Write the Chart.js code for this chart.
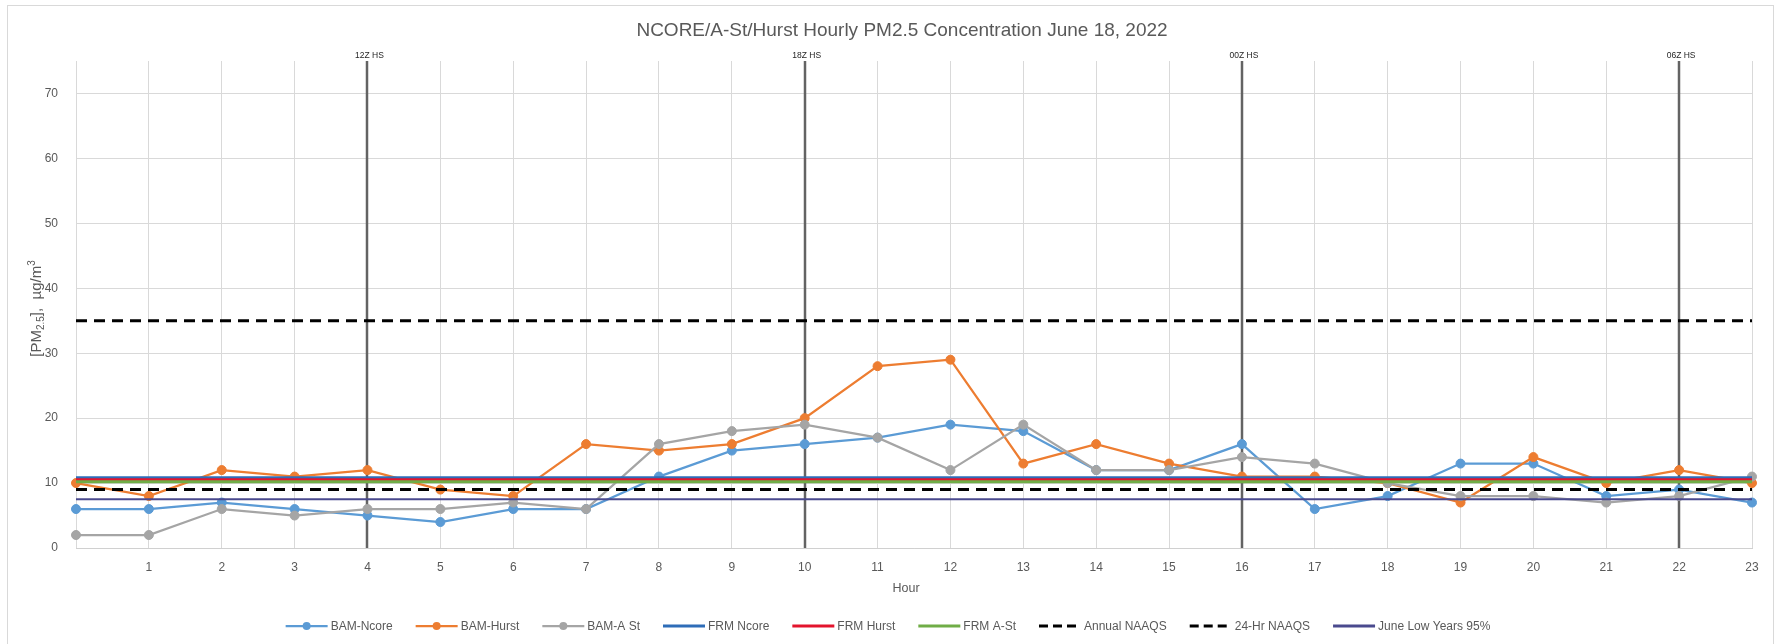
<!DOCTYPE html>
<html><head><meta charset="utf-8">
<script src="https://cdn.jsdelivr.net/npm/chart.js@4.4.1/dist/chart.umd.min.js"></script>
<style>html,body{margin:0;padding:0;background:#fff;}#wrap{width:1776px;height:644px;}</style>
</head><body><div id="wrap"><canvas id="c" width="1776" height="644"></canvas></div>
<script>
// ---- data ----
const hours = ['0','1','2','3','4','5','6','7','8','9','10','11','12','13','14','15','16','17','18','19','20','21','22','23'];
const bamNcore = [6,6,7,6,5,4,6,6,11,15,16,17,19,18,12,12,16,6,8,13,13,8,9,7];
const bamHurst = [10,8,12,11,12,9,8,16,15,16,20,28,29,13,16,13,11,11,10,7,14,10,12,10];
const bamASt   = [2,2,6,5,6,6,7,6,16,18,19,17,12,19,12,12,14,13,10,8,8,7,8,11];
const frmNcore = 10.8;
const frmHurst = 10.5;
const frmASt = 10.2;
const annualNaaqs = 9;
const dailyNaaqs = 35;
const juneLow95 = 7.5;
const hsHours = ['4','10','16','22'];
const hsLabels = ['12Z HS','18Z HS','00Z HS','06Z HS'];
const yTicks = [0,10,20,30,40,50,60,70];
const yMax = 75;
const titleText = 'NCORE/A-St/Hurst Hourly PM2.5 Concentration June 18, 2022';
const xTitle = 'Hour';

const FONT = '"Liberation Sans", Arial, sans-serif';
const TXT = '#595959';
const constLine = v => hours.map(() => v);

function mkSet(label, data, color, kind, extra) {
  const base = {
    label, data, borderColor: color, backgroundColor: color,
    legendKind: kind, tension: 0, fill: false,
    borderWidth: kind === 'marker' ? 2.25 : 3,
    pointRadius: kind === 'marker' ? 4.5 : 0,
    pointHoverRadius: 0,
    pointBorderWidth: 1,
    borderDash: kind === 'dash' ? [11, 7] : []
  };
  return Object.assign(base, extra || {});
}
const datasets = [
  mkSet('BAM-Ncore', bamNcore, '#5B9BD5', 'marker'),
  mkSet('BAM-Hurst', bamHurst, '#ED7D31', 'marker'),
  mkSet('BAM-A St', bamASt, '#A5A5A5', 'marker'),
  mkSet('FRM Ncore', constLine(frmNcore), '#2E6DB8', 'line'),
  mkSet('FRM Hurst', constLine(frmHurst), '#E3142D', 'line'),
  mkSet('FRM A-St', constLine(frmASt), '#70AD47', 'line'),
  mkSet('Annual NAAQS', constLine(annualNaaqs), '#000000', 'dash'),
  mkSet('24-Hr NAAQS', constLine(dailyNaaqs), '#000000', 'dash'),
  mkSet('June Low Years 95%', constLine(juneLow95), '#4A4A8E', 'line', {borderWidth: 2})
];
datasets.forEach((d, i) => { d.order = datasets.length - i; });

const decor = {
  id: 'decor',
  beforeDraw(chart) {
    const ctx = chart.ctx;
    ctx.save();
    ctx.fillStyle = '#fff';
    ctx.fillRect(0, 0, chart.width, chart.height);
    ctx.strokeStyle = '#D9D9D9';
    ctx.lineWidth = 1;
    ctx.strokeRect(7.5, 5.5, 1766, 700);
    ctx.restore();
  },
  beforeDatasetsDraw(chart) {
    const ctx = chart.ctx, x = chart.scales.x, a = chart.chartArea;
    ctx.save();
    ctx.strokeStyle = '#636363';
    ctx.lineWidth = 2.5;
    hsHours.forEach(h => {
      const px = Math.round(x.getPixelForValue(hours.indexOf(h)));
      ctx.beginPath(); ctx.moveTo(px, a.top); ctx.lineTo(px, a.bottom); ctx.stroke();
    });
    ctx.restore();
  },
  afterDraw(chart) {
    const ctx = chart.ctx, x = chart.scales.x, a = chart.chartArea;
    ctx.save();
    // title
    ctx.fillStyle = TXT;
    ctx.font = '19px ' + FONT;
    ctx.textAlign = 'center'; ctx.textBaseline = 'middle';
    ctx.fillText(titleText, 902, 31);
    // HS labels
    ctx.fillStyle = '#262626';
    ctx.font = '8.5px ' + FONT;
    hsHours.forEach((h, i) => {
      const px = x.getPixelForValue(hours.indexOf(h));
      ctx.fillText(hsLabels[i], px + 2, a.top - 5);
    });
    // x title
    ctx.fillStyle = TXT;
    ctx.font = '12.5px ' + FONT;
    ctx.fillText(xTitle, (a.left + a.right) / 2 - 8, 589);
    // y title with sub/superscript
    ctx.save();
    ctx.translate(37, (a.top + a.bottom) / 2 + 4);
    ctx.rotate(-Math.PI / 2);
    const parts = [['[PM', 15, 0], ['2.5', 10, 4], ['],  \u00B5g/m', 15, 0], ['3', 10, -5]];
    let total = 0;
    parts.forEach(p => { ctx.font = p[1] + 'px ' + FONT; total += ctx.measureText(p[0]).width; });
    let cx = -total / 2;
    ctx.textAlign = 'left';
    parts.forEach(p => { ctx.font = p[1] + 'px ' + FONT; ctx.fillText(p[0], cx, p[2]); cx += ctx.measureText(p[0]).width; });
    ctx.restore();
    // legend
    ctx.font = '12px ' + FONT;
    ctx.textAlign = 'left';
    const symW = 42, gapT = 3, gapI = 23;
    const items = chart.data.datasets.map(d => ({d, w: symW + gapT + ctx.measureText(d.label).width}));
    const tot = items.reduce((s, it) => s + it.w, 0) + gapI * (items.length - 1);
    let lx = 888 - tot / 2;
    const ly = 626;
    items.forEach(it => {
      const d = it.d;
      ctx.save();
      ctx.strokeStyle = d.borderColor;
      ctx.lineWidth = d.legendKind === 'marker' ? 2.25 : 3;
      if (d.legendKind === 'dash') ctx.setLineDash([9, 5]);
      ctx.beginPath(); ctx.moveTo(lx, ly); ctx.lineTo(lx + symW, ly); ctx.stroke();
      ctx.setLineDash([]);
      if (d.legendKind === 'marker') {
        ctx.fillStyle = d.borderColor;
        ctx.beginPath(); ctx.arc(lx + symW / 2, ly, 4, 0, Math.PI * 2); ctx.fill();
      }
      ctx.restore();
      ctx.fillStyle = TXT;
      ctx.fillText(d.label, lx + symW + gapT, ly + 1);
      lx += it.w + gapI;
    });
    ctx.restore();
  }
};

new Chart(document.getElementById('c'), {
  type: 'line',
  data: { labels: hours, datasets },
  plugins: [decor],
  options: {
    responsive: false, animation: false, devicePixelRatio: 1,
    layout: { padding: { left: 0, right: 24, top: 61, bottom: 0 } },
    plugins: { legend: { display: false }, title: { display: false }, tooltip: { enabled: false } },
    scales: {
      x: {
        type: 'category', offset: false,
        grid: { color: '#D9D9D9', lineWidth: 1, drawTicks: false },
        border: { color: '#D0D0D0' },
        ticks: { autoSkip: false, maxRotation: 0, padding: 12, color: TXT, font: { family: FONT, size: 12 },
          callback: (v, i) => i === 0 ? '' : hours[i] },
        afterFit: s => { s.height = 96; }
      },
      y: {
        min: 0, max: yMax,
        afterBuildTicks: s => { s.ticks = yTicks.map(v => ({ value: v })); },
        grid: { color: '#D9D9D9', lineWidth: 1, drawTicks: false },
        border: { display: false },
        ticks: { padding: 18, color: TXT, font: { family: FONT, size: 12 } },
        afterFit: s => { s.width = 76; }
      }
    }
  }
});
</script></body></html>
